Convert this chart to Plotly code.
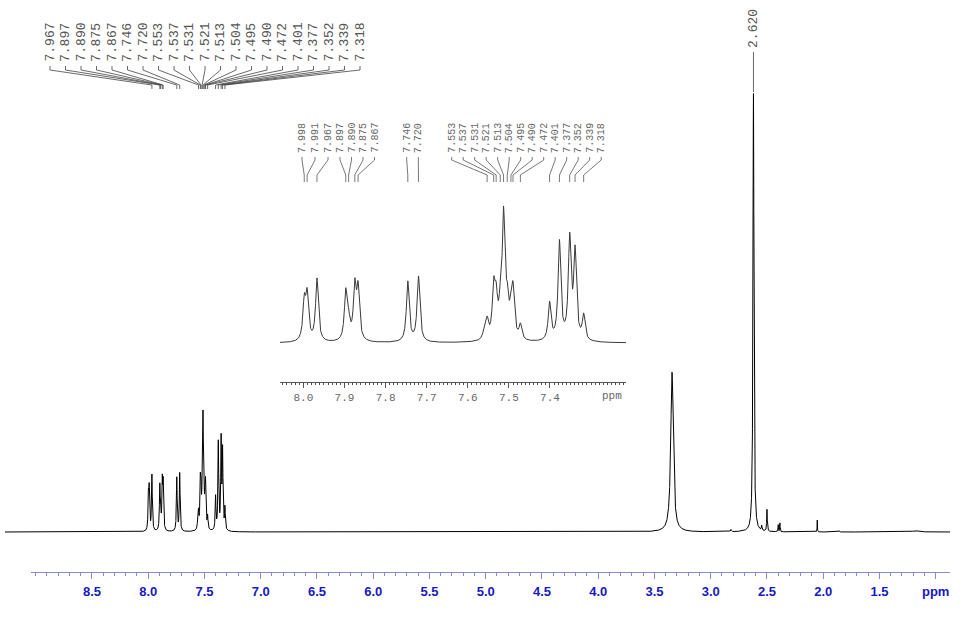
import numpy as np
import plotly.graph_objects as go

W, H = 968, 623

# aromatic lines (ppm) and apparent heights (2.620 singlet = 100)
aro_ppm = [7.998, 7.991, 7.967, 7.897, 7.890, 7.875, 7.867, 7.746, 7.720,
           7.560, 7.553, 7.537, 7.531, 7.521, 7.513, 7.504, 7.495, 7.490, 7.472,
           7.401, 7.377, 7.352, 7.339, 7.318]
aro_height = [10.1, 11.2, 13.2, 11.2, 7.1, 13.2, 12.6, 12.6, 13.6,
              3.4, 5.5, 13.5, 12.5, 12.2, 27.8, 12.5, 10.8, 12.5, 4.1,
              8.5, 21.0, 22.5, 19.9, 6.1]
aro_hw = 0.004

# remaining signals: position, height, half width
ali_ppm = [3.344, 2.820, 2.620, 2.547, 2.500, 2.400, 2.385, 2.053, 1.860, 1.180]
ali_height = [36.4, 0.5, 100.0, 1.1, 5.0, 1.6, 2.0, 2.7, 0.3, 0.3]
ali_hw = [0.013, 0.004, 0.005, 0.003, 0.003, 0.002, 0.002, 0.0015, 0.003, 0.03]

main_labels = ["7.967", "7.897", "7.890", "7.875", "7.867", "7.746", "7.720",
               "7.553", "7.537", "7.531", "7.521", "7.513", "7.504", "7.495",
               "7.490", "7.472", "7.401", "7.377", "7.352", "7.339", "7.318"]
inset_labels = ["7.998", "7.991", "7.967", "7.897", "7.890", "7.875", "7.867",
                "7.746", "7.720",
                "7.553", "7.537", "7.531", "7.521", "7.513", "7.504", "7.495",
                "7.490", "7.472", "7.401", "7.377", "7.352", "7.339", "7.318"]

main_ticks = [9.0, 8.5, 8.0, 7.5, 7.0, 6.5, 6.0, 5.5, 5.0, 4.5, 4.0, 3.5, 3.0, 2.5, 2.0, 1.5, 1.0]
main_ticktext = ["", "8.5", "8.0", "7.5", "7.0", "6.5", "6.0", "5.5", "5.0", "4.5",
                 "4.0", "3.5", "3.0", "2.5", "2.0", "1.5", "ppm"]
inset_ticks = [8.0, 7.9, 7.8, 7.7, 7.6, 7.5, 7.4, 7.3]
inset_ticktext = ["8.0", "7.9", "7.8", "7.7", "7.6", "7.5", "7.4", ""]


def lorentz(x, c, hw):
    return 1.0 / (1.0 + ((x - c) / hw) ** 2)


# line intensities so that the summed curve reaches the observed heights
P = np.array(aro_ppm)
M = lorentz(P[:, None], P[None, :], aro_hw)
aro_amp = np.clip(np.linalg.solve(M, np.array(aro_height)), 0, None)


def spectrum(x):
    y = np.zeros_like(x)
    for c, a in zip(aro_ppm, aro_amp):
        y += a * lorentz(x, c, aro_hw)
    for c, a, hw in zip(ali_ppm, ali_height, ali_hw):
        y += a * lorentz(x, c, hw)
    return y


# geometry (pixels)
MX0, MX1, MLO, MHI = 9.273, 0.873, 5, 950
IX0, IX1, ILO, IHI = 8.057, 7.215, 280, 626


def py(p):
    return (H - p) / H


def m_ppm(px):
    return MX0 - (px - MLO) * (MX0 - MX1) / (MHI - MLO)


def i_ppm(px):
    return IX0 - (px - ILO) * (IX0 - IX1) / (IHI - ILO)


xm = np.linspace(MX0, MX1, 21001)
xi = np.linspace(IX0, IX1, 4211)

fig = go.Figure()
fig.add_trace(go.Scatter(x=xm, y=spectrum(xm), mode="lines", xaxis="x", yaxis="y",
                         line=dict(color="#000000", width=1), hoverinfo="skip"))
fig.add_trace(go.Scatter(x=[9.0], y=[0], mode="markers", xaxis="x2", yaxis="y",
                         marker=dict(opacity=0), hoverinfo="skip"))
fig.add_trace(go.Scatter(x=xi, y=spectrum(xi), mode="lines", xaxis="x3", yaxis="y3",
                         line=dict(color="#3a3a3a", width=1), hoverinfo="skip"))

blue_line = "#8a8ad8"
gray = "#555555"
label_col = "#555555"

fig.update_layout(
    width=W, height=H, margin=dict(l=0, r=0, t=0, b=0),
    paper_bgcolor="white", plot_bgcolor="rgba(0,0,0,0)", showlegend=False,
    xaxis=dict(domain=[MLO / W, MHI / W], range=[MX0, MX1], visible=False),
    yaxis=dict(domain=[py(560), py(60)], range=[-(560 - 532) / 4.39, (532 - 60) / 4.39],
               visible=False),
    xaxis2=dict(domain=[31 / W, MHI / W], range=[m_ppm(31), MX1], anchor="free",
                position=py(572), showline=True, linecolor=blue_line, linewidth=1,
                ticks="outside", ticklen=6, tickcolor=blue_line, tickwidth=1,
                tickmode="array", tickvals=main_ticks, ticktext=main_ticktext,
                ticklabelstandoff=1,
                tickfont=dict(family="Liberation Sans", size=13, color="#1818c4",
                              weight="bold"),
                minor=dict(tickmode="array", tickvals=list(np.round(np.arange(9.0, 0.95, -0.1), 2)),
                           ticks="outside", ticklen=3, tickcolor=blue_line, showgrid=False),
                showgrid=False, zeroline=False),
    xaxis3=dict(domain=[ILO / W, IHI / W], range=[IX0, IX1], anchor="free",
                position=py(382), showline=True, linecolor=gray, linewidth=1,
                ticks="outside", ticklen=5, tickcolor=gray,
                tickmode="array", tickvals=inset_ticks, ticktext=inset_ticktext,
                ticklabelstandoff=0,
                tickfont=dict(family="Liberation Mono", size=11, color="#666666"),
                minor=dict(tickmode="array", tickvals=list(np.round(np.arange(8.05, 7.21, -0.01), 3)),
                           ticks="outside", ticklen=2, tickcolor=gray, showgrid=False),
                showgrid=False, zeroline=False),
    yaxis3=dict(domain=[py(360), py(195)], range=[-(360 - 343) / 4.93, (343 - 195) / 4.93],
                anchor="x3", visible=False),
)

shapes = []
annotations = []

# main peak labels with leader lines
for i, lab in enumerate(main_labels):
    lx = m_ppm(50 + 15.5 * i)
    pk = float(lab)
    annotations.append(dict(text=lab, x=lx, xref="x", y=py(64), yref="paper",
                            textangle=-90, xanchor="center", yanchor="bottom",
                            showarrow=False,
                            font=dict(family="Liberation Mono", size=13, color=label_col)))
    shapes.append(dict(type="path", xref="x", yref="paper",
                       path=f"M {lx},{py(66)} L {lx},{py(70)} L {pk},{py(85)} L {pk},{py(89)}",
                       line=dict(color="#444444", width=0.8)))

annotations.append(dict(text="2.620", x=2.620, xref="x", y=py(50), yref="paper",
                        textangle=-90, xanchor="center", yanchor="bottom", showarrow=False,
                        font=dict(family="Liberation Mono", size=13, color=label_col)))
shapes.append(dict(type="line", xref="x", yref="paper", x0=2.620, x1=2.620,
                   y0=py(52), y1=py(92), line=dict(color="#444444", width=0.8)))

# inset labels
inset_px = ([302, 315, 328] + [340, 351.5, 363, 374.5] + [406.7, 418.3]
            + [451.7 + 11.5 * k for k in range(14)])
for lab, px in zip(inset_labels, inset_px):
    lx = i_ppm(px)
    pk = float(lab)
    annotations.append(dict(text=lab, x=lx, xref="x3", y=py(155), yref="paper",
                            textangle=-90, xanchor="center", yanchor="bottom",
                            showarrow=False,
                            font=dict(family="Liberation Mono", size=10, color="#666666")))
    shapes.append(dict(type="path", xref="x3", yref="paper",
                       path=f"M {lx},{py(157)} L {lx},{py(160)} L {pk},{py(175)} L {pk},{py(182)}",
                       line=dict(color="#555555", width=0.8)))

annotations.append(dict(text="ppm", x=i_ppm(612), xref="x3", y=py(396), yref="paper",
                        xanchor="center", yanchor="middle", showarrow=False,
                        font=dict(family="Liberation Mono", size=11, color="#666666")))

fig.update_layout(shapes=shapes, annotations=annotations)
fig.write_html("out.html", config={"displayModeBar": False},
               post_script="document.body.style.margin = '0';")
